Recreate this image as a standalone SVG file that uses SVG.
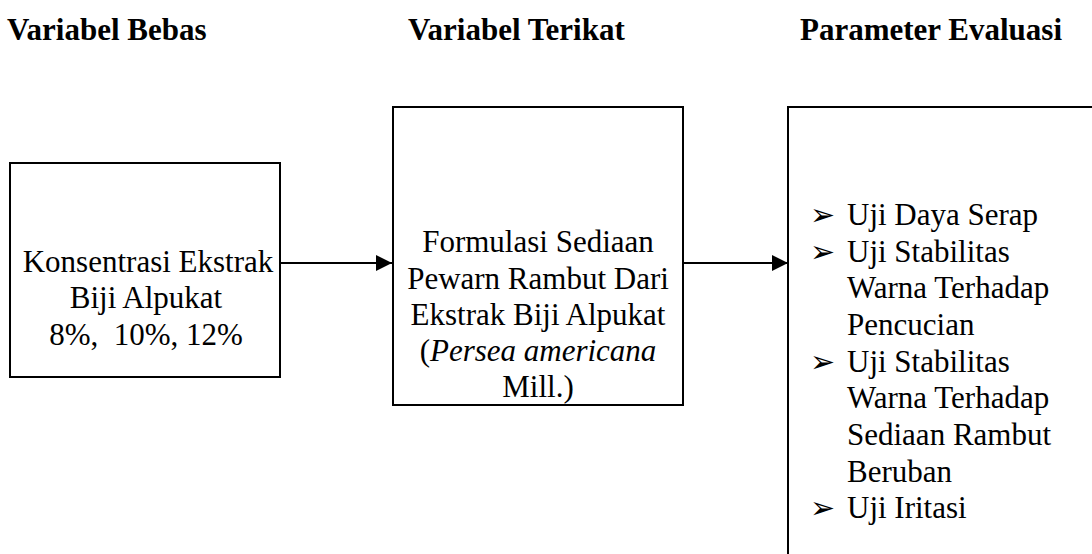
<svg xmlns="http://www.w3.org/2000/svg" width="1092" height="554" viewBox="0 0 1092 554">
<style>
.t{font-family:"Liberation Serif","Times New Roman",serif;font-size:31px;fill:#000}
.h{font-weight:bold}
.b{font-family:"DejaVu Sans",sans-serif;font-size:30px}
.box{fill:#fff;stroke:#000;stroke-width:2}
.ln{stroke:#000;stroke-width:2;fill:none}
</style>
<defs>
<marker id="ah" markerWidth="16" markerHeight="16" refX="16" refY="8" orient="auto" markerUnits="userSpaceOnUse">
<path d="M0,0 L16,8 L0,16 Z" fill="#000"/>
</marker>
</defs>
<rect width="1092" height="554" fill="#fff"/>
<g id="headers">
<text class="t h" x="7" y="40">Variabel Bebas</text>
<text class="t h" x="408" y="40">Variabel Terikat</text>
<text class="t h" x="800" y="40">Parameter Evaluasi</text>
</g>
<g id="connectors">
<line class="ln" x1="280" y1="263" x2="392" y2="263" marker-end="url(#ah)"/>
<line class="ln" x1="683" y1="263" x2="788" y2="263" marker-end="url(#ah)"/>
</g>
<g id="node-bebas">
<rect class="box" x="10" y="163" width="270" height="214"/>
<text class="t" text-anchor="middle" xml:space="preserve"><tspan x="148" y="272">Konsentrasi Ekstrak</tspan><tspan x="146" y="308">Biji Alpukat</tspan><tspan x="146" y="345">8%,  10%, 12%</tspan></text>
</g>
<g id="node-terikat">
<rect class="box" x="393" y="107" width="290" height="298"/>
<text class="t" text-anchor="middle"><tspan x="538" y="252">Formulasi Sediaan</tspan><tspan x="538" y="289">Pewarn Rambut Dari</tspan><tspan x="538" y="325">Ekstrak Biji Alpukat</tspan><tspan x="538" y="361">(<tspan font-style="italic">Persea americana</tspan></tspan><tspan x="538" y="397">Mill.)</tspan></text>
</g>
<g id="node-evaluasi">
<path class="ln" d="M788,560 L788,107 L1094,107"/>
<g class="t">
<text class="b" x="810" y="225">➢</text>
<text x="847" y="225">Uji Daya Serap</text>
<text class="b" x="810" y="262">➢</text>
<text x="847" y="262">Uji Stabilitas</text>
<text x="847" y="298">Warna Terhadap</text>
<text x="847" y="335">Pencucian</text>
<text class="b" x="810" y="372">➢</text>
<text x="847" y="372">Uji Stabilitas</text>
<text x="847" y="408">Warna Terhadap</text>
<text x="847" y="445">Sediaan Rambut</text>
<text x="847" y="482">Beruban</text>
<text class="b" x="810" y="518">➢</text>
<text x="847" y="518">Uji Iritasi</text>
</g>
</g>
</svg>
